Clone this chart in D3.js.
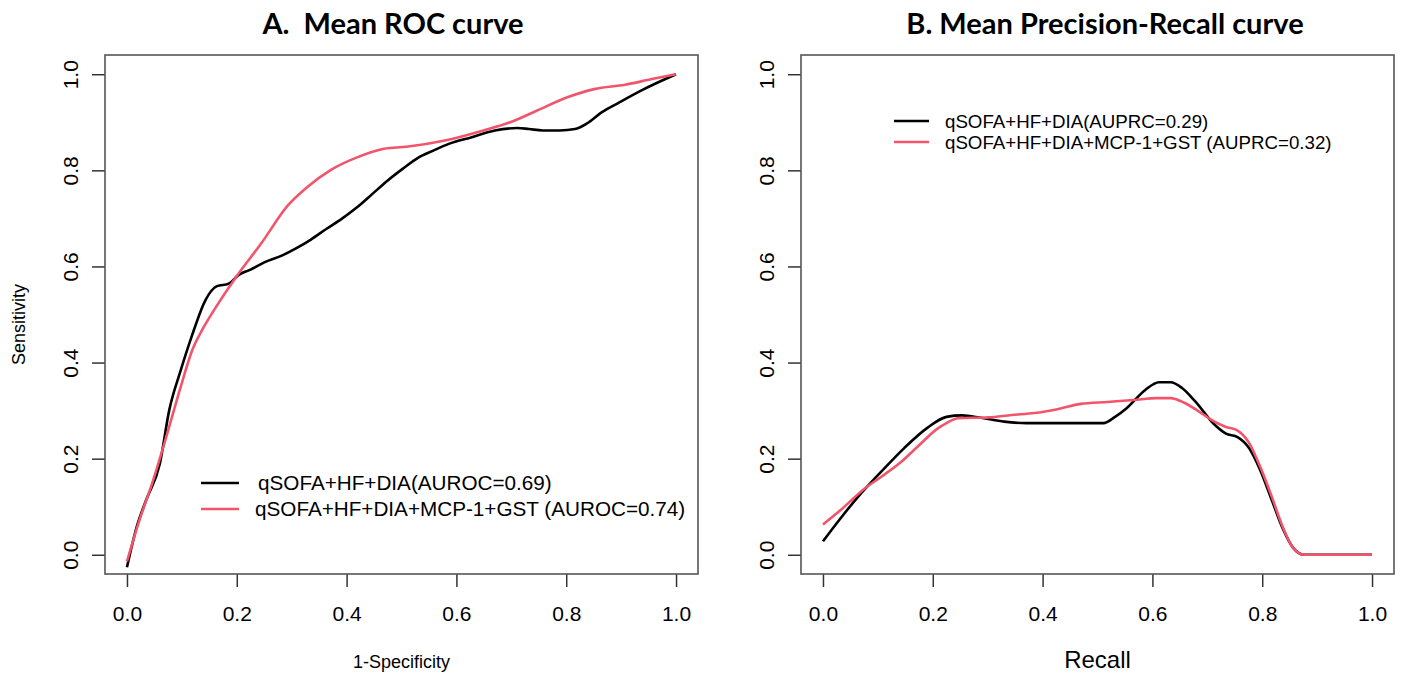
<!DOCTYPE html>
<html>
<head>
<meta charset="utf-8">
<script src="https://cdn.jsdelivr.net/npm/d3@7"></script>
<style>
  body { margin: 0; background: #fff; }
  text { font-family: "Liberation Sans", Arial, sans-serif; fill: #000; }
  .title { font-family: Lato, "Open Sans", sans-serif; font-weight: 700; white-space: pre; }
</style>
</head>
<body>
<div id="chart"></div>
<script>
// ROC curves (x = 1-specificity, y = sensitivity)
const rocBaseX = [0, 0.018, 0.035, 0.060, 0.077, 0.098, 0.119, 0.143, 0.164, 0.185, 0.203, 0.224, 0.251, 0.283, 0.307, 0.335, 0.363, 0.391, 0.419, 0.447, 0.475, 0.502, 0.530, 0.558, 0.586, 0.628, 0.670, 0.711, 0.732, 0.757, 0.788, 0.816, 0.837, 0.865, 0.896, 0.938, 1.0];
const rocBaseY = [-0.026, 0.059, 0.114, 0.190, 0.301, 0.384, 0.458, 0.530, 0.559, 0.564, 0.582, 0.593, 0.609, 0.623, 0.637, 0.656, 0.678, 0.699, 0.723, 0.751, 0.779, 0.803, 0.826, 0.841, 0.855, 0.869, 0.883, 0.888, 0.886, 0.883, 0.883, 0.886, 0.897, 0.921, 0.941, 0.967, 1.0];
const rocFullX = [0, 0.021, 0.046, 0.070, 0.098, 0.119, 0.140, 0.164, 0.203, 0.244, 0.293, 0.328, 0.370, 0.419, 0.468, 0.509, 0.579, 0.649, 0.698, 0.746, 0.802, 0.851, 0.907, 0.956, 1.0];
const rocFullY = [-0.014, 0.066, 0.149, 0.239, 0.350, 0.426, 0.474, 0.519, 0.585, 0.647, 0.727, 0.765, 0.800, 0.827, 0.845, 0.849, 0.862, 0.883, 0.900, 0.924, 0.952, 0.969, 0.978, 0.990, 1.0];

// Precision-recall curves
const prBaseX = [0, 0.030, 0.065, 0.107, 0.148, 0.190, 0.225, 0.253, 0.288, 0.330, 0.371, 0.427, 0.469, 0.511, 0.532, 0.553, 0.587, 0.612, 0.633, 0.654, 0.678, 0.713, 0.734, 0.755, 0.776, 0.796, 0.817, 0.838, 0.856, 0.877, 1.0];
const prBaseY = [0.028, 0.073, 0.122, 0.174, 0.222, 0.264, 0.287, 0.290, 0.285, 0.277, 0.274, 0.274, 0.274, 0.274, 0.287, 0.305, 0.343, 0.359, 0.359, 0.347, 0.319, 0.271, 0.252, 0.245, 0.222, 0.177, 0.115, 0.053, 0.015, 0, 0];
const prFullX = [0, 0.030, 0.075, 0.107, 0.141, 0.176, 0.208, 0.225, 0.246, 0.302, 0.344, 0.385, 0.427, 0.469, 0.518, 0.566, 0.608, 0.633, 0.657, 0.685, 0.713, 0.734, 0.753, 0.776, 0.796, 0.817, 0.837, 0.856, 0.877, 1.0];
const prFullY = [0.063, 0.091, 0.137, 0.163, 0.192, 0.229, 0.262, 0.274, 0.284, 0.286, 0.291, 0.295, 0.303, 0.314, 0.318, 0.322, 0.326, 0.326, 0.317, 0.298, 0.277, 0.266, 0.260, 0.233, 0.184, 0.122, 0.059, 0.015, 0, 0];

const tickVals = [0, 0.2, 0.4, 0.6, 0.8, 1.0];
const seriesColors = ["#000000", "#F2556B"];

const width = 1402, height = 675;
const svg = d3.select("#chart").append("svg")
  .attr("width", width)
  .attr("height", height);

const panels = [
  {
    left: 105, right: 698, top: 55, bottom: 574,
    title: "A.  Mean ROC curve", titleX: 393,
    xLabel: "1-Specificity", xLabelSize: 18, yLabel: "Sensitivity",
    series: [[rocBaseX, rocBaseY], [rocFullX, rocFullY]],
    legend: ["qSOFA+HF+DIA(AUROC=0.69)", "qSOFA+HF+DIA+MCP-1+GST (AUROC=0.74)"],
    legX: 201, legY: 483, legGap: 26, legSize: 20.7, legLine: 38
  },
  {
    left: 801, right: 1394, top: 55, bottom: 574,
    title: "B. Mean Precision-Recall curve", titleX: 1105,
    xLabel: "Recall", xLabelSize: 24, yLabel: "",
    series: [[prBaseX, prBaseY], [prFullX, prFullY]],
    legend: ["qSOFA+HF+DIA(AUPRC=0.29)", "qSOFA+HF+DIA+MCP-1+GST (AUPRC=0.32)"],
    legX: 894, legY: 121, legGap: 21, legSize: 18.7, legLine: 35
  }
];

panels.forEach(p => {
  const x = d3.scaleLinear().domain([-0.04, 1.04]).range([p.left, p.right]);
  const y = d3.scaleLinear().domain([-0.04, 1.04]).range([p.bottom, p.top]);
  const g = svg.append("g");

  g.append("text")
    .attr("class", "title")
    .attr("x", p.titleX).attr("y", 34)
    .attr("text-anchor", "middle")
    .style("font-size", "29px")
    .text(p.title);

  // x axis
  const xAxis = g.append("g")
    .attr("transform", `translate(0,${p.bottom})`)
    .call(d3.axisBottom(x).tickValues(tickVals).tickSize(13).tickFormat(d3.format(".1f")));
  xAxis.select(".domain").remove();
  xAxis.selectAll("line").attr("stroke", "#333").attr("stroke-width", 1.5);
  xAxis.selectAll("text")
    .attr("y", 47).attr("dy", null)
    .style("font-size", "21px");

  // y axis, labels parallel to axis
  const yAxis = g.append("g")
    .attr("transform", `translate(${p.left},0)`)
    .call(d3.axisLeft(y).tickValues(tickVals).tickSize(13).tickFormat(d3.format(".1f")));
  yAxis.select(".domain").remove();
  yAxis.selectAll("line").attr("stroke", "#333").attr("stroke-width", 1.5);
  yAxis.selectAll("text")
    .attr("x", null).attr("dy", null)
    .attr("text-anchor", "middle")
    .attr("transform", "translate(-27,0) rotate(-90)")
    .style("font-size", "21px");

  g.append("rect")
    .attr("x", p.left).attr("y", p.top)
    .attr("width", p.right - p.left).attr("height", p.bottom - p.top)
    .attr("fill", "none").attr("stroke", "#555").attr("stroke-width", 1.6);

  g.append("text")
    .attr("x", (x(0) + x(1)) / 2).attr("y", 668)
    .attr("text-anchor", "middle")
    .style("font-size", p.xLabelSize + "px")
    .text(p.xLabel);

  if (p.yLabel) {
    g.append("text")
      .attr("transform", `translate(25,${(p.top + p.bottom) / 2 + 10}) rotate(-90)`)
      .attr("text-anchor", "middle")
      .style("font-size", "18px")
      .text(p.yLabel);
  }

  const line = d3.line()
    .x(d => x(d[0]))
    .y(d => y(d[1]))
    .curve(d3.curveMonotoneX);

  p.series.forEach((s, i) => {
    const pts = s[0].map((v, k) => [v, s[1][k]]);
    g.append("path")
      .datum(pts)
      .attr("fill", "none")
      .attr("stroke", seriesColors[i])
      .attr("stroke-width", 2.6)
      .attr("stroke-linejoin", "round")
      .attr("d", line);
  });

  // legend
  p.legend.forEach((t, i) => {
    const ly = p.legY + i * p.legGap;
    g.append("line")
      .attr("x1", p.legX).attr("x2", p.legX + p.legLine)
      .attr("y1", ly).attr("y2", ly)
      .attr("stroke", seriesColors[i]).attr("stroke-width", 2.6);
    g.append("text")
      .attr("x", p.legX + p.legLine + (i === 0 && p.legSize > 20 ? 19 : 16))
      .attr("y", ly).attr("dy", "0.36em")
      .style("font-size", p.legSize + "px")
      .text(t);
  });
});
</script>
</body>
</html>
